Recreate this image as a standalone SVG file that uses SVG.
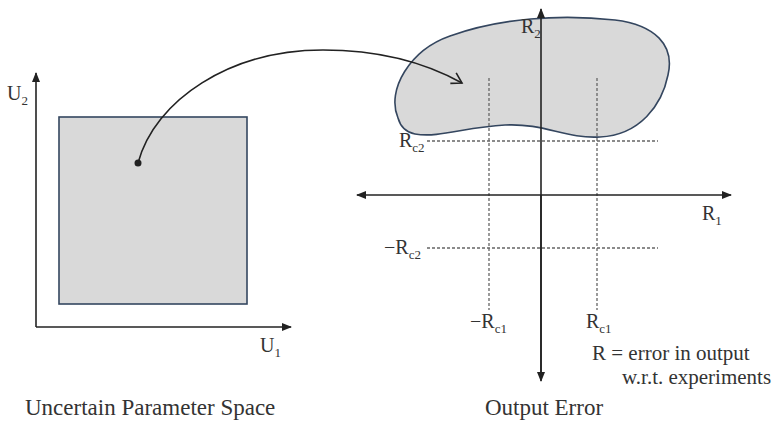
<svg xmlns="http://www.w3.org/2000/svg" width="776" height="421" viewBox="0 0 776 421">
<style>
text{font-family:"Liberation Serif","Times New Roman",serif;fill:#333;font-size:20px}
.sub{font-size:13px}
.title{font-size:23px}
.note{font-size:21px}
.ax{stroke:#222;stroke-width:1.6;fill:none}
.dash{stroke:#666;stroke-width:1.3;stroke-dasharray:3,2;fill:none}
.shape{fill:#d9d9d9;stroke:#34465f;stroke-width:1.6}
</style>
<defs>
<marker id="ah" markerWidth="10" markerHeight="8" refX="9" refY="4" orient="auto" markerUnits="userSpaceOnUse">
<path d="M0,0 L10,4 L0,8 Z" fill="#222"/>
</marker>
<marker id="ahs" markerWidth="10" markerHeight="8" refX="1" refY="4" orient="auto" markerUnits="userSpaceOnUse">
<path d="M10,0 L0,4 L10,8 Z" fill="#222"/>
</marker>
<marker id="open" markerWidth="14" markerHeight="14" refX="12" refY="7" orient="auto" markerUnits="userSpaceOnUse">
<path d="M2,1 L12,7 L2,13" fill="none" stroke="#222" stroke-width="1.6"/>
</marker>
</defs>
<g id="parameter-space">
<rect class="shape" x="59" y="117" width="188" height="187"/>
<path class="ax" d="M36,327 V73" marker-end="url(#ah)"/>
<path class="ax" d="M36,327 H291" marker-end="url(#ah)"/>
<text x="7" y="100">U<tspan class="sub" dy="5">2</tspan></text>
<text x="260" y="352">U<tspan class="sub" dy="5">1</tspan></text>
<circle cx="138" cy="163" r="3.5" fill="#222"/>
<text class="title" x="25" y="415">Uncertain Parameter Space</text>
</g>
<g id="output-error">
<path class="shape" d="M398,118 C386,90 410,50 450,36 C500,18 560,14 615,20 C655,25 675,45 668,75 C662,105 640,135 600,137 C565,139 545,123 505,125 C465,127 440,138 415,134 C404,132 400,125 398,118 Z"/>
<path class="dash" d="M427,141 H658"/>
<path class="dash" d="M427,248 H658"/>
<path class="dash" d="M489,78 V310"/>
<path class="dash" d="M597,78 V310"/>
<path class="ax" d="M541,378 V9" marker-end="url(#ah)"/>
<path class="ax" d="M541,195 V381" marker-end="url(#ah)"/>
<path class="ax" d="M357,195 H731" marker-start="url(#ahs)" marker-end="url(#ah)"/>
<text x="521" y="33">R<tspan class="sub" dy="5">2</tspan></text>
<text x="702" y="220">R<tspan class="sub" dy="5">1</tspan></text>
<text x="399" y="147">R<tspan class="sub" dy="5">c2</tspan></text>
<text x="384" y="254">−R<tspan class="sub" dy="5">c2</tspan></text>
<text x="470" y="328">−R<tspan class="sub" dy="5">c1</tspan></text>
<text x="586" y="328">R<tspan class="sub" dy="5">c1</tspan></text>
<text class="note" x="592" y="360">R = error in output</text>
<text class="note" x="622" y="384">w.r.t. experiments</text>
<text class="title" x="544" y="415" text-anchor="middle">Output Error</text>
</g>
<g id="connectors">
<path class="ax" d="M138,163 C155,100 230,50 323,50 C390,50 435,68 462,83" marker-end="url(#open)"/>
</g>
</svg>
